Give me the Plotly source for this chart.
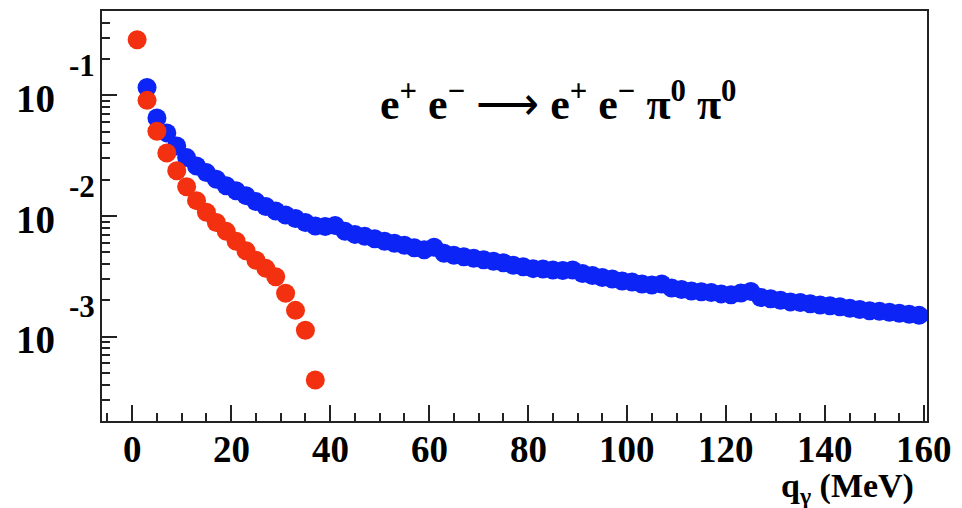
import math
import plotly.graph_objects as go

# ---- data ----
red_q = [1, 3, 5, 7, 9, 11, 13, 15, 17, 19, 21, 23, 25, 27, 29, 31, 33, 35, 37]
red_val = [0.2890, 0.0910, 0.0505, 0.0333, 0.0237, 0.01749, 0.01341, 0.01075,
           0.00884, 0.00746, 0.00617, 0.00515, 0.00430, 0.00368, 0.00313,
           0.00229, 0.00165, 0.00113, 0.000437]

blue_q = [3, 5, 7, 9, 11, 13, 15, 17, 19, 21, 23, 25, 27, 29, 31, 33, 35, 37, 39,
          41, 43, 45, 47, 49, 51, 53, 55, 57, 59, 61, 63, 65, 67, 69, 71, 73, 75,
          77, 79, 81, 83, 85, 87, 89, 91, 93, 95, 97, 99, 101, 103, 105, 107, 109,
          111, 113, 115, 117, 119, 121, 123, 125, 127, 129, 131, 133, 135, 137,
          139, 141, 143, 145, 147, 149, 151, 153, 155, 157, 159]
blue_val = [0.1163, 0.0650, 0.0489, 0.0380, 0.0305, 0.0260, 0.0229, 0.0202, 0.0178,
            0.0162, 0.01475, 0.01316, 0.01197, 0.01099, 0.01019, 0.00954, 0.00884,
            0.00827, 0.00819, 0.00835, 0.00746, 0.00704, 0.00678, 0.00647, 0.00617,
            0.00594, 0.00572, 0.00545, 0.00525, 0.00550, 0.00491, 0.00473, 0.00460,
            0.00447, 0.00434, 0.00422, 0.00410, 0.00391, 0.00380, 0.00366, 0.00363,
            0.00356, 0.00353, 0.00356, 0.00333, 0.00321, 0.00309, 0.00300, 0.00289,
            0.00284, 0.00273, 0.00268, 0.00273, 0.00253, 0.00246, 0.00239, 0.00235,
            0.00232, 0.00226, 0.00222, 0.00230, 0.00237, 0.00211, 0.00206, 0.00200,
            0.00194, 0.00192, 0.00187, 0.00183, 0.00180, 0.00177, 0.00172, 0.00168,
            0.00164, 0.00162, 0.00159, 0.00156, 0.00153, 0.00150]

x_ticks = [0, 20, 40, 60, 80, 100, 120, 140, 160]
y_ticks = [1e-1, 1e-2, 1e-3]
y_exponents = ["-1", "-2", "-3"]
title_text = ("<b>e<sup>+</sup> e<sup>\u2212</sup></b> \u27f6 <b>e<sup>+</sup> e<sup>\u2212</sup> "
              "\u03c0<sup>0</sup> \u03c0<sup>0</sup></b>")
x_title = "q<sub>\u03b3</sub> (MeV)"

W, H = 962, 508
L, R, T, B = 102, 35, 9, 87
plot_h = H - T - B
plot_w = W - L - R
FONT = "Liberation Serif"

fig = go.Figure()
fig.add_trace(go.Scatter(x=blue_q, y=blue_val, mode="markers",
                         marker=dict(size=19, color="#0c24f5", line=dict(width=0)),
                         showlegend=False))
fig.add_trace(go.Scatter(x=red_q, y=red_val, mode="markers",
                         marker=dict(size=19, color="#f3300f", line=dict(width=0)),
                         showlegend=False))


def paper_y(py):
    return (H - B - py) / plot_h


annotations = []
# x tick labels
for v in x_ticks:
    annotations.append(dict(x=v, xref="x", y=paper_y(450), yref="paper",
                            text=f"<b>{v}</b>", showarrow=False,
                            xanchor="center", yanchor="middle",
                            font=dict(family=FONT, size=37, color="black")))
# y tick labels (ROOT style: 10 with a raised exponent)
for v, e in zip(y_ticks, y_exponents):
    annotations.append(dict(x=0, xref="paper", xshift=-67, y=math.log10(v), yref="y",
                            yshift=-3, text="<b>10</b>", showarrow=False,
                            xanchor="center", yanchor="middle",
                            font=dict(family=FONT, size=39, color="black")))
    annotations.append(dict(x=0, xref="paper", xshift=-20, y=math.log10(v), yref="y",
                            yshift=30, text=f"<b>{e}</b>", showarrow=False,
                            xanchor="center", yanchor="middle",
                            font=dict(family=FONT, size=31, color="black")))
# reaction label
annotations.append(dict(x=(558 - L) / plot_w, xref="paper", y=paper_y(100), yref="paper",
                        text=title_text, showarrow=False,
                        xanchor="center", yanchor="middle",
                        font=dict(family=FONT, size=44, color="black")))
# x-axis title
annotations.append(dict(x=(916 - L) / plot_w, xref="paper", y=paper_y(488), yref="paper",
                        text=f"<b>{x_title}</b>", showarrow=False,
                        xanchor="right", yanchor="middle",
                        font=dict(family=FONT, size=34, color="black")))

fig.update_layout(
    width=W, height=H,
    margin=dict(l=L, r=R, t=T, b=B),
    paper_bgcolor="white", plot_bgcolor="white",
    annotations=annotations,
    font=dict(family=FONT, color="black"),
)
fig.update_xaxes(range=[-6.1, 160.6], showgrid=False, zeroline=False,
                 showline=True, mirror=True, linecolor="#222222", linewidth=2,
                 ticks="inside", tick0=0, dtick=20, ticklen=16, tickwidth=1.5,
                 tickcolor="#222222", showticklabels=False,
                 minor=dict(ticks="inside", tick0=0, dtick=5, ticklen=8,
                            tickwidth=1.5, tickcolor="#222222", showgrid=False))
fig.update_yaxes(type="log", range=[-3.70, -0.30], showgrid=False, zeroline=False,
                 showline=True, mirror=True, linecolor="#222222", linewidth=2,
                 ticks="inside", tickvals=y_ticks, ticklen=15, tickwidth=1.5,
                 tickcolor="#222222", showticklabels=False,
                 minor=dict(ticks="inside", dtick="D1", ticklen=8,
                            tickwidth=1.5, tickcolor="#222222", showgrid=False))

fig.write_html("out.html")
